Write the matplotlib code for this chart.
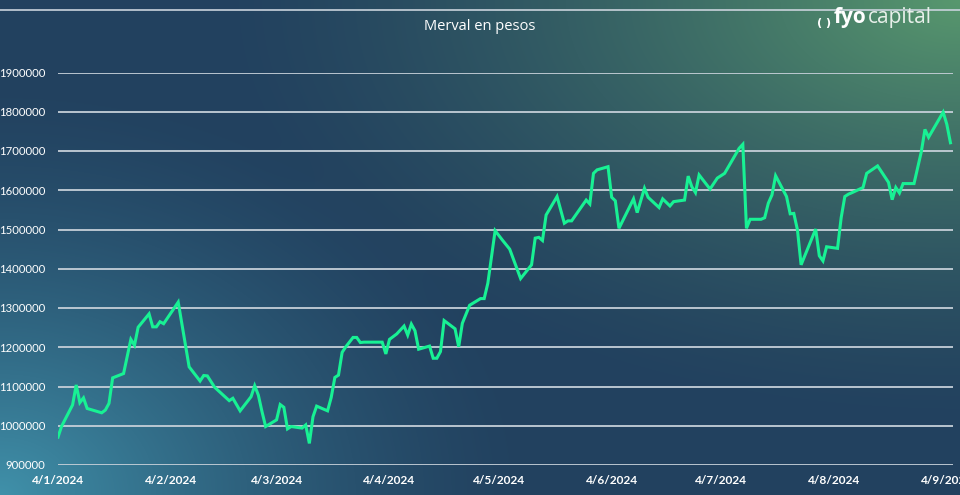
import numpy as np
import pandas as pd
import matplotlib
matplotlib.use("Agg")
import matplotlib.pyplot as plt

# Merval en pesos (days counted from 4/1/2024)
start_date = "2024-01-04"
day_offsets = [0, 1, 4, 5, 6, 7, 8, 12, 13, 14, 15, 18, 20, 21, 22, 25, 26, 27, 28, 29,
               33, 36, 39, 40, 41, 43, 47, 48, 50, 53, 54, 55, 56, 57, 60, 61, 62, 63, 64, 67,
               68, 69, 70, 71, 74, 75, 76, 77, 78, 79, 81, 82, 83, 84, 89, 90, 91, 93, 95, 96,
               97, 98, 99, 102, 103, 104, 105, 106, 109, 110, 111, 113, 116, 117, 118, 120, 122, 124, 125, 127,
               130, 131, 132, 133, 134, 137, 139, 140, 141, 145, 146, 147, 148, 151, 152, 153, 154, 158, 159, 161,
               162, 165, 166, 168, 169, 172, 173, 174, 175, 176, 179, 181, 183, 187, 188, 189, 190, 193, 194, 195,
               196, 197, 200, 201, 202, 203, 204, 208, 209, 210, 211, 214, 215, 216, 217, 218, 221, 222, 225, 228,
               229, 230, 231, 232, 235, 237, 238, 239, 243, 244, 245]
merval = [971000, 999000, 1053000, 1104000, 1059000, 1071000, 1044000, 1033000, 1040000, 1057000,
          1122000, 1133000, 1220000, 1205000, 1251000, 1285000, 1252000, 1252000, 1265000, 1260000,
          1315000, 1150000, 1114000, 1128000, 1127000, 1098000, 1064000, 1070000, 1038000, 1074000,
          1102000, 1078000, 1036000, 998000, 1015000, 1054000, 1047000, 992000, 998000, 994000,
          1002000, 955000, 1023000, 1050000, 1038000, 1072000, 1123000, 1129000, 1187000, 1201000,
          1225000, 1225000, 1212000, 1213000, 1213000, 1183000, 1220000, 1234000, 1254000, 1231000,
          1259000, 1242000, 1195000, 1203000, 1172000, 1172000, 1189000, 1268000, 1247000, 1201000,
          1261000, 1307000, 1324000, 1324000, 1363000, 1497000, 1473000, 1450000, 1425000, 1375000,
          1410000, 1478000, 1480000, 1472000, 1537000, 1584000, 1516000, 1522000, 1522000, 1575000,
          1565000, 1643000, 1652000, 1660000, 1582000, 1573000, 1503000, 1578000, 1543000, 1605000,
          1582000, 1556000, 1578000, 1560000, 1571000, 1575000, 1636000, 1609000, 1594000, 1639000,
          1603000, 1631000, 1643000, 1707000, 1717000, 1503000, 1526000, 1526000, 1530000, 1567000,
          1588000, 1637000, 1584000, 1540000, 1541000, 1499000, 1410000, 1501000, 1433000, 1420000,
          1456000, 1452000, 1530000, 1584000, 1590000, 1594000, 1607000, 1643000, 1662000, 1620000,
          1576000, 1607000, 1593000, 1617000, 1617000, 1698000, 1755000, 1735000, 1799000, 1768000,
          1721000]
y_ticks = [900000, 1000000, 1100000, 1200000, 1300000, 1400000, 1500000,
           1600000, 1700000, 1800000, 1900000]
tick_dates = ["2024-01-04", "2024-02-04", "2024-03-04", "2024-04-04", "2024-05-04",
              "2024-06-04", "2024-07-04", "2024-08-04", "2024-09-04"]

dates = pd.Timestamp(start_date) + pd.to_timedelta(day_offsets, unit="D")

W, H = 960, 495
fig = plt.figure(figsize=(W / 100, H / 100), dpi=100)

# background: dark blue with a green glow top right and a teal glow bottom left
bg = fig.add_axes([0, 0, 1, 1])
yy, xx = np.mgrid[0:H, 0:W]
base = np.array([34, 65, 95]) / 255.0
green = np.array([88, 152, 110]) / 255.0
teal = np.array([64, 145, 170]) / 255.0
d1 = np.hypot((xx - W) / 760.0, yy / 430.0)
d2 = np.hypot(xx / 540.0, (yy - H) / 420.0)
w1 = np.clip(1 - d1, 0, 1) ** 1.5
w2 = np.clip(1 - d2, 0, 1) ** 1.5
img = base + w1[..., None] * (green - base) + w2[..., None] * (teal - base)
bg.imshow(np.clip(img, 0, 1), aspect="auto", extent=[0, W, H, 0])
bg.plot([0, W], [9.5, 9.5], color="#c9d3dc", lw=1.2)
bg.set_xlim(0, W)
bg.set_ylim(H, 0)
bg.axis("off")

ax = fig.add_axes([58 / W, (H - 465) / H, (953 - 58) / W, (465 - 72.5) / H])
ax.patch.set_alpha(0)
ax.plot(dates, merval, color="#18F194", lw=2.2, solid_joinstyle="miter", zorder=3)

ax.set_ylim(900000, 1900000)
ax.set_yticks(y_ticks)
ax.set_yticklabels([str(v) for v in y_ticks], family="Lato")
ax.set_xlim(pd.Timestamp(start_date), pd.Timestamp(start_date) + pd.Timedelta(days=245.7))
ax.set_xticks(pd.to_datetime(tick_dates))
ax.set_xticklabels([f"{d.day}/{d.month}/{d.year}" for d in pd.to_datetime(tick_dates)],
                   family="Lato", fontweight="bold")
ax.grid(axis="y", color="#c5cfd8", lw=1.3)
ax.set_axisbelow(True)
for s in ax.spines.values():
    s.set_visible(False)
ax.tick_params(axis="both", length=0)
ax.tick_params(axis="y", pad=9, labelsize=8.2, labelcolor="white")
ax.tick_params(axis="x", pad=7, labelsize=8.6, labelcolor="white")

fig.text(480 / W, 1 - 27 / H, "Merval en pesos", color="white", fontsize=10.5,
         ha="center", va="center", family="Open Sans")

# logo
fig.text(817 / W, 1 - 23 / H, "( )", color="white", fontsize=8, fontweight="bold",
         ha="left", va="center")
fig.text(834 / W, 1 - 18 / H, "fyo", color="white", fontsize=15, fontweight="bold",
         ha="left", va="center", family="Open Sans")
fig.text(868 / W, 1 - 18 / H, "capital", color="#e8f0ea", fontsize=15,
         ha="left", va="center", family="Open Sans")

fig.savefig("out.png", dpi=100)
